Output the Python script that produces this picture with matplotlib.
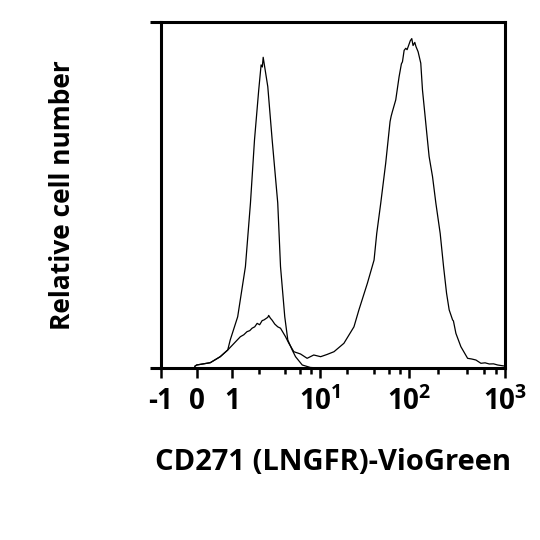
import numpy as np
import matplotlib
matplotlib.use('Agg')
import matplotlib.pyplot as plt

plt.rcParams['font.family'] = ['Open Sans', 'DejaVu Sans']
plt.rcParams['font.weight'] = 'bold'
plt.rcParams['mathtext.fontset'] = 'custom'
plt.rcParams['mathtext.rm'] = 'Open Sans:bold'
plt.rcParams['mathtext.bf'] = 'Open Sans:bold'

# control (unstained) histogram
ctrl_x = [-0.05, 0.0, 0.38, 0.66, 0.87, 0.94, 1.15, 1.41, 1.61, 1.79, 2.0, 2.13,
          2.2, 2.25, 2.54, 2.85, 3.30, 3.55, 3.97, 4.30, 4.83, 5.27, 6.29, 7.8, 10.0]
ctrl_y = [0.5, 0.87, 1.53, 3.27, 5.2, 8.1, 14.8, 29.3, 47.7, 65.9, 80.3, 87.6,
          87.0, 89.8, 81.3, 65.9, 47.7, 29.3, 14.8, 8.1, 5.2, 3.27, 0.87, 0.15, 0.0]

# CD271 stained histogram
cd_x = [-0.05, 0.0, 0.38, 0.66, 0.87, 1.235, 1.35, 1.47, 1.58, 1.68, 1.8, 1.92,
        2.05, 2.19, 2.3, 2.54, 2.6, 2.72, 2.85, 3.05, 3.3, 3.55, 4.05, 4.42,
        5.04, 6.01, 7.15, 8.51, 10.2, 12.0, 14.4, 18.6, 24.1, 27.4, 34.1,
        40.5, 43.4, 48.1, 54.7, 61.2, 63.0, 65.0, 70.9, 77.3, 82.0, 84.3,
        88.0, 91.8, 95.0, 100.0, 103.0, 106.7, 110.0, 114.7, 118.0, 124.2,
        132.4, 138.0, 145.9, 153.0, 161.8, 175.6, 190.3, 211.0, 228.8, 245.9,
        261.8, 284.2, 290.0, 307.8, 346.8, 407.5, 450.0, 497.5, 561.0, 620.0,
        685.0, 760.0, 839.0, 977.0]
cd_y = [0.5, 0.87, 1.53, 3.27, 5.2, 9.05, 9.6, 10.5, 10.8, 11.5, 11.9, 12.9,
        12.5, 13.7, 13.9, 14.65, 15.2, 14.4, 13.8, 12.7, 11.9, 11.5, 9.05, 7.14,
        4.71, 4.05, 2.8, 3.76, 3.27, 3.9, 4.71, 7.14, 11.9, 16.8, 24.5,
        31.2, 38.9, 47.6, 59.2, 71.2, 72.8, 74.1, 77.5, 84.2, 87.9, 88.5,
        91.8, 92.4, 92.0, 93.6, 94.6, 95.2, 93.2, 94.1, 92.9, 91.4,
        88.1, 80.3, 73.6, 67.8, 61.1, 55.3, 47.6, 38.9, 29.3, 21.6,
        16.8, 13.9, 13.6, 10.0, 6.16, 2.8, 2.6, 2.31, 1.36, 1.5,
        1.16, 1.2, 0.87, 0.58]

major_ticks = [-1, 0, 1, 10, 100, 1000]
major_labels = ['-1', '0', '1', r'$\mathbf{10^{1}}$', r'$\mathbf{10^{2}}$', r'$\mathbf{10^{3}}$']
minor_ticks = [2, 4, 6, 8, 20, 40, 60, 80, 200, 400, 600, 800]

# biexponential-like display: linear below 1, log above
DEC_POS = [232.0, 319.3, 408.3, 504.0]
LIN_SLOPE = 35.6
TOP_SLOPE = 95.7


def fwd(x):
    x = np.asarray(x, dtype=float)
    lx = np.log10(np.maximum(x, 1.0))
    hi = np.interp(lx, [0, 1, 2, 3], DEC_POS)
    hi = np.where(lx > 3, DEC_POS[-1] + (lx - 3) * TOP_SLOPE, hi)
    lo = DEC_POS[0] + (x - 1.0) * LIN_SLOPE
    return np.where(x <= 1, lo, hi)


def inv(p):
    p = np.asarray(p, dtype=float)
    lp = np.interp(p, DEC_POS, [0, 1, 2, 3])
    lp = np.where(p > DEC_POS[-1], 3 + (p - DEC_POS[-1]) / TOP_SLOPE, lp)
    lp = np.clip(lp, -300, 300)
    lo = 1.0 + (p - DEC_POS[0]) / LIN_SLOPE
    return np.where(p <= DEC_POS[0], lo, 10 ** lp)


fig = plt.figure(figsize=(5.4, 5.4), dpi=100)
ax = fig.add_axes([161 / 540, 1 - 368 / 540, (505 - 161) / 540, (368 - 22) / 540])
ax.set_xscale('function', functions=(fwd, inv))

ax.plot(ctrl_x, ctrl_y, color='black', lw=0.9)
ax.plot(cd_x, cd_y, color='black', lw=0.9)

ax.set_xlim(-1, 1000)
ax.set_ylim(0, 100)

for s in ax.spines.values():
    s.set_linewidth(2.2)

ax.set_xticks(major_ticks)
ax.set_xticklabels(major_labels, fontsize=20, fontweight='bold')
ax.set_xticks(minor_ticks, minor=True)
ax.xaxis.set_minor_formatter(plt.NullFormatter())
ax.tick_params(axis='x', which='major', direction='out', length=7, width=1.8, pad=7)
ax.tick_params(axis='x', which='minor', direction='out', length=4, width=1.8)
ax.set_yticks([0, 100])
ax.set_yticklabels([])
ax.tick_params(axis='y', direction='out', length=8, width=2.2)

ax.set_ylabel('Relative cell number', fontsize=19, fontweight='bold', labelpad=50)
ax.set_xlabel('CD271 (LNGFR)-VioGreen', fontsize=21, fontweight='bold', labelpad=22)

fig.savefig('out.png', dpi=100)
